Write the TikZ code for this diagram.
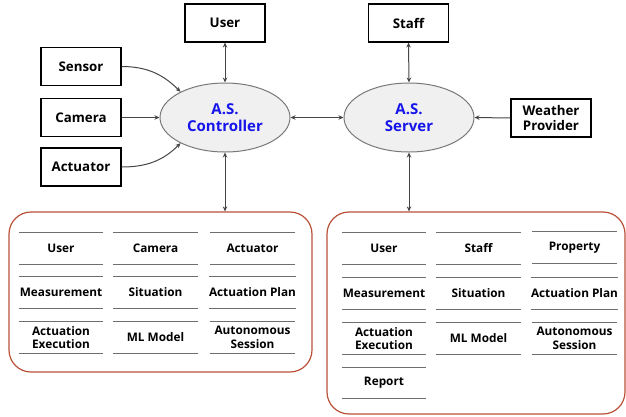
\documentclass[tikz,border=0pt]{standalone}
\usepackage{fontspec}
\setmainfont{Open Sans}
\usetikzlibrary{shapes.geometric,arrows.meta}

\definecolor{boxred}{RGB}{185,80,55}
\definecolor{entgray}{RGB}{110,110,110}
\definecolor{arrgray}{RGB}{70,70,70}
\definecolor{ellfill}{RGB}{240,240,240}
\definecolor{ellline}{RGB}{120,120,120}
\definecolor{asblue}{RGB}{20,20,235}

\tikzset{
 extbox/.style={draw=black, line width=1.1pt, minimum width=80pt, minimum height=38pt, inner sep=0pt, font=\fontsize{13.3}{14.5}\selectfont\bfseries, align=center},
 ctrlell/.style={ellipse, draw=ellline, fill=ellfill, line width=1pt, minimum width=130pt, minimum height=69pt, inner sep=0pt, font=\fontsize{15}{17}\selectfont\bfseries, text=asblue, align=center},
 container/.style={draw=boxred, line width=1.2pt, rounded corners=22pt, inner sep=0pt},
 entity/.style={minimum width=84pt, minimum height=31pt, inner sep=0pt, font=\fontsize{11.8}{13.5}\selectfont\bfseries, align=center},
 entline/.style={draw=entgray, line width=1.1pt},
 arr/.style={draw=arrgray, line width=1pt, -{Stealth[length=5pt,width=4.5pt]}},
 biarr/.style={draw=arrgray, line width=1pt, {Stealth[length=5pt,width=4.5pt]}-{Stealth[length=5pt,width=4.5pt]}},
}

\newcommand{\entitybox}[4]{%
  \node[entity] (#1) at (#2,#3) {#4};
  \draw[entline] (#1.north west) -- (#1.north east) (#1.south west) -- (#1.south east);}

\begin{document}
\begin{tikzpicture}[x=1pt,y=-1pt]
\useasboundingbox (0,0) rectangle (626,416);

% external boxes
\node[extbox] (user)    at (225,23)  {User};
\node[extbox] (sensor)  at (81,66.5) {Sensor};
\node[extbox] (camera)  at (81,117.5) {Camera};
\node[extbox] (actuator) at (81,167) {Actuator};
\node[extbox] (staff)   at (408.5,23) {Staff};
\node[extbox] (weather) at (551,118) {Weather\\Provider};

% ellipses
\node[ctrlell] (ctrl) at (225,117.5) {A.S.\\Controller};
\node[ctrlell] (server) at (409,117.5) {A.S.\\Server};

% containers
\node[container, minimum width=303pt, minimum height=160pt] (lbox) at (160.5,292) {};
\node[container, minimum width=298pt, minimum height=202pt] (rbox) at (476,313) {};

% connectors
\draw[biarr] (user.south) -- (ctrl.north);
\draw[biarr] (staff.south) -- (server.north);
\draw[arr] (sensor.east) to[out=0,in=135] (ctrl.150);
\draw[arr] (camera.east) -- (ctrl.west);
\draw[arr] (actuator.east) to[out=0,in=225] (ctrl.210);
\draw[biarr] (ctrl.east) -- (server.west);
\draw[arr] (weather.west) -- (server.east);
\draw[biarr] (ctrl.south) -- (ctrl.south |- lbox.north);
\draw[biarr] (server.south) -- (server.south |- rbox.north);

% left container entities
\entitybox{lu}{61}{248.5}{User}
\entitybox{lc}{155.5}{248.5}{Camera}
\entitybox{la}{252.5}{248.5}{Actuator}
\entitybox{lm}{61}{292.5}{Measurement}
\entitybox{ls}{155.5}{292.5}{Situation}
\entitybox{lp}{252.5}{292.5}{Actuation Plan}
\entitybox{le}{61}{337.5}{Actuation\\Execution}
\entitybox{lml}{155.5}{337.5}{ML Model}
\entitybox{las}{252.5}{337.5}{Autonomous\\Session}

% right container entities
\entitybox{ru}{384}{248.5}{User}
\entitybox{rs}{478.5}{248.5}{Staff}
\entitybox{rp}{574.5}{247.5}{Property}
\entitybox{rm}{384}{293.5}{Measurement}
\entitybox{rsi}{478.5}{293.5}{Situation}
\entitybox{rap}{574.5}{293.5}{Actuation Plan}
\entitybox{re}{384}{338.5}{Actuation\\Execution}
\entitybox{rml}{478.5}{338.5}{ML Model}
\entitybox{ras}{574.5}{338.5}{Autonomous\\Session}
\entitybox{rr}{384}{383}{Report}
\end{tikzpicture}
\end{document}
